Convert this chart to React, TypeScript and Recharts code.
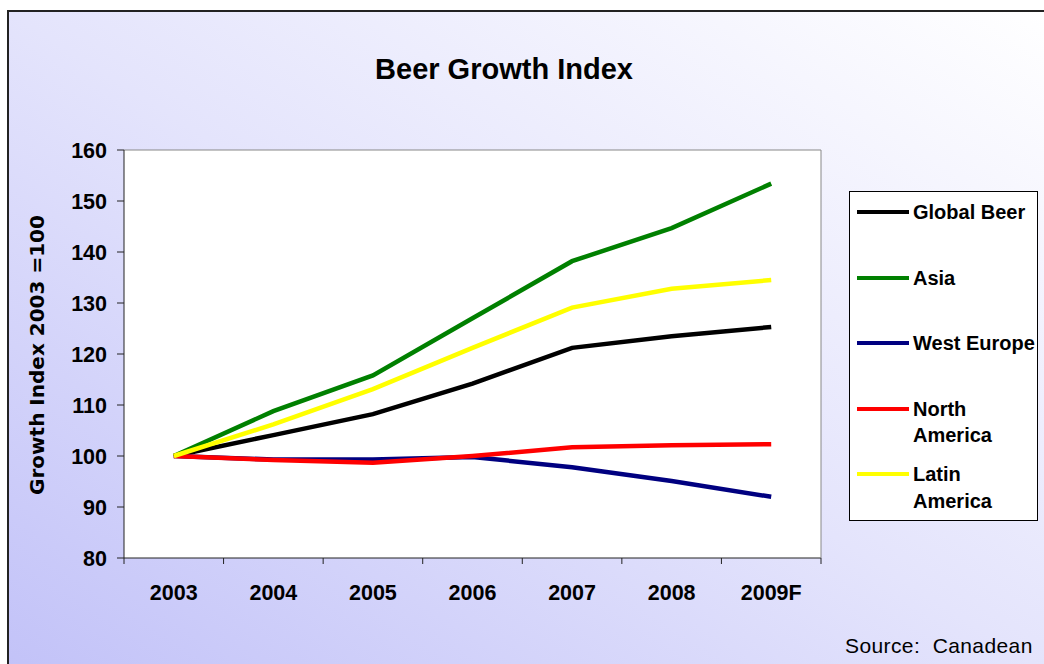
// Beer Growth Index line chart

import { LineChart, Line, XAxis, YAxis, CartesianGrid, Legend } from "recharts";

const years = ["2003", "2004", "2005", "2006", "2007", "2008", "2009F"];
const globalBeer = [100, 104.1, 108.2, 114.2, 121.2, 123.5, 125.3];
const asia = [100, 108.8, 115.8, 127.0, 138.2, 144.7, 153.4];
const westEurope = [100, 99.3, 99.3, 99.8, 97.8, 95.1, 92.0];
const northAmerica = [100, 99.2, 98.7, 100.0, 101.7, 102.1, 102.3];
const latinAmerica = [100, 106.2, 113.1, 121.2, 129.1, 132.8, 134.5];
const yTicks = [80, 90, 100, 110, 120, 130, 140, 150, 160];

const series = [
  { key: "globalBeer", name: "Global Beer", color: "#000000", values: globalBeer, lines: ["Global Beer"] },
  { key: "asia", name: "Asia", color: "#008000", values: asia, lines: ["Asia"] },
  { key: "westEurope", name: "West Europe", color: "#000080", values: westEurope, lines: ["West Europe"] },
  { key: "northAmerica", name: "North America", color: "#ff0000", values: northAmerica, lines: ["North", "America"] },
  { key: "latinAmerica", name: "Latin America", color: "#ffff00", values: latinAmerica, lines: ["Latin", "America"] },
];

const data = years.map((year, i) => {
  const row: Record<string, number | string> = { x: i, year };
  series.forEach((s) => {
    row[s.key] = s.values[i];
  });
  return row;
});

const indexTicks = years.map((_, i) => i);
const boundaryTicks = [...years.map((_, i) => i - 0.5), years.length - 0.5];
const xDomain = [-0.5, years.length - 0.5];

const font = "'Liberation Sans', Arial, sans-serif";
const tickStyle = { fontSize: 21.5, fontWeight: "bold", fill: "#000", fontFamily: font };

function LegendBox() {
  return (
    <div
      style={{
        width: 189,
        height: 330,
        background: "#fff",
        border: "1px solid #000",
        paddingTop: 7,
        boxSizing: "border-box",
        fontFamily: font,
        fontWeight: "bold",
        fontSize: 20,
        color: "#000",
      }}
    >
      {series.map((s) => (
        <div key={s.key} style={{ position: "relative", height: 65.6 }}>
          <div
            style={{
              position: "absolute",
              left: 7,
              top: 11,
              width: 52,
              height: 4,
              background: s.color,
            }}
          />
          <div style={{ position: "absolute", left: 63, top: 0, lineHeight: "26.7px", whiteSpace: "nowrap" }}>
            {s.lines.map((t) => (
              <div key={t}>{t}</div>
            ))}
          </div>
        </div>
      ))}
    </div>
  );
}

export default function App() {
  return (
    <div style={{ position: "absolute", left: 0, top: 0, width: 1044, height: 664, background: "#fff", overflow: "hidden" }}>
      <div
        style={{
          position: "absolute",
          left: 7,
          top: 10,
          width: 1040,
          height: 660,
          borderLeft: "2px solid #222",
          borderTop: "2px solid #222",
          background: "linear-gradient(to top right, #c2c2f8 0%, #e4e4fc 50%, #ffffff 100%)",
        }}
      />
      <div
        style={{
          position: "absolute",
          left: 0,
          width: 1008,
          top: 55,
          textAlign: "center",
          fontFamily: font,
          fontWeight: "bold",
          fontSize: 29,
          lineHeight: "29px",
        }}
      >
        Beer Growth Index
      </div>
      <div
        style={{
          position: "absolute",
          left: 37,
          top: 355,
          transform: "translate(-50%, -50%) rotate(-90deg)",
          whiteSpace: "nowrap",
          fontFamily: "'DejaVu Sans', Verdana, sans-serif",
          fontWeight: "bold",
          fontSize: 20,
        }}
      >
        Growth Index 2003 =100
      </div>
      <div
        style={{
          position: "absolute",
          left: 845,
          top: 635,
          fontFamily: font,
          fontSize: 21,
          lineHeight: "21px",
          letterSpacing: 0.4,
          whiteSpace: "pre",
        }}
      >
        Source:  Canadean
      </div>
      <div style={{ position: "absolute", left: 0, top: 0 }}>
        <LineChart width={1044} height={664} data={data} margin={{ top: 149, right: 222, bottom: 65, left: 0 }}>
          <CartesianGrid horizontal={false} vertical={false} fill="#fff" />
          <XAxis
            xAxisId="top"
            orientation="top"
            dataKey="x"
            type="number"
            domain={xDomain}
            height={1}
            ticks={boundaryTicks}
            tickLine={false}
            tickFormatter={() => ""}
            axisLine={{ stroke: "#888" }}
          />
          <XAxis
            xAxisId="grid"
            dataKey="x"
            type="number"
            domain={xDomain}
            height={1}
            ticks={boundaryTicks}
            tickSize={6}
            tickFormatter={() => ""}
            tickLine={{ stroke: "#222" }}
            axisLine={{ stroke: "#222" }}
          />
          <XAxis
            xAxisId="main"
            dataKey="x"
            type="number"
            domain={xDomain}
            height={40}
            ticks={indexTicks}
            tickFormatter={(i) => years[i]}
            tick={tickStyle}
            tickLine={false}
            axisLine={false}
            tickSize={0}
            tickMargin={26}
            interval={0}
          />
          <YAxis
            domain={[80, 160]}
            ticks={yTicks}
            width={124}
            tick={tickStyle}
            tickSize={7}
            tickMargin={10}
            tickLine={{ stroke: "#222" }}
            axisLine={{ stroke: "#222" }}
            interval={0}
          />
          <YAxis
            yAxisId="right"
            orientation="right"
            domain={[80, 160]}
            width={1}
            tick={false}
            tickLine={false}
            axisLine={{ stroke: "#888" }}
          />
          {series.map((s) => (
            <Line
              key={s.key}
              xAxisId="main"
              dataKey={s.key}
              name={s.name}
              stroke={s.color}
              strokeWidth={4.5}
              dot={false}
              isAnimationActive={false}
            />
          ))}
          <Legend
            layout="vertical"
            align="center"
            verticalAlign="middle"
            content={() => <LegendBox />}
            wrapperStyle={{ position: "absolute", left: 849, top: 191, width: 189, height: 330 }}
          />
        </LineChart>
      </div>
    </div>
  );
}
